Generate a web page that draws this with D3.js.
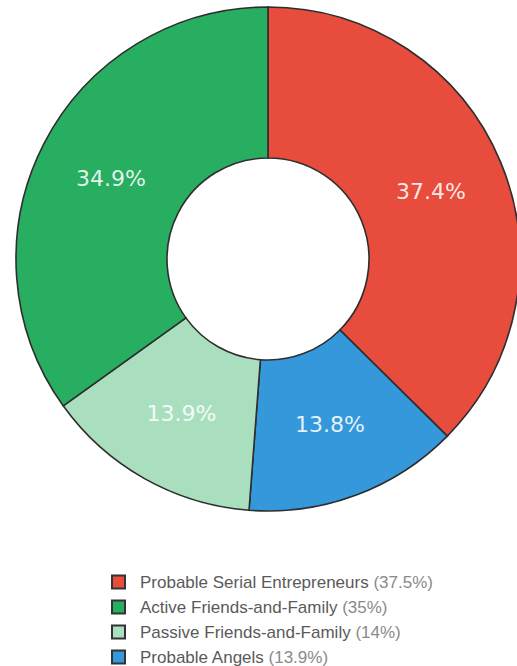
<!DOCTYPE html>
<html>
<head>
<meta charset="utf-8">
<script src="https://cdn.jsdelivr.net/npm/d3@7"></script>
<style>
    body { margin: 0; background: #fff; }
    svg { display: block; }
</style>
</head>
<body>
<svg id="chart" width="517" height="666"></svg>
<script>
// slices, clockwise from 12 o'clock
const sliceNames = ["Probable Serial Entrepreneurs", "Probable Angels", "Passive Friends-and-Family", "Active Friends-and-Family"];
const sliceValues = [37.4, 13.8, 13.9, 34.9];
const sliceColors = ["#e74c3c", "#3498db", "#a9dfbf", "#27ae60"];

// legend
const legendNames = ["Probable Serial Entrepreneurs", "Active Friends-and-Family", "Passive Friends-and-Family", "Probable Angels"];
const legendPct = ["(37.5%)", "(35%)", "(14%)", "(13.9%)"];
const legendColors = ["#e74c3c", "#27ae60", "#a9dfbf", "#3498db"];

const svg = d3.select("#chart");
const cx = 268, cy = 259;
const outerR = 252, innerR = 101;

const pie = d3.pie().sort(null).value(d => d.value);
const arc = d3.arc().innerRadius(innerR).outerRadius(outerR);

const data = sliceNames.map((n, i) => ({ name: n, value: sliceValues[i], color: sliceColors[i] }));

const g = svg.append("g").attr("transform", `translate(${cx},${cy})`);

g.selectAll("path")
    .data(pie(data))
    .enter().append("path")
    .attr("d", arc)
    .attr("fill", d => d.data.color)
    .attr("stroke", "#2e2e2e")
    .attr("stroke-width", 1.6);

g.selectAll("text")
    .data(pie(data))
    .enter().append("text")
    .attr("transform", d => `translate(${arc.centroid(d)})`)
    .attr("text-anchor", "middle")
    .attr("dy", "0.36em")
    .attr("fill", "#ffffff")
    .attr("fill-opacity", 0.88)
    .attr("font-family", "DejaVu Sans")
    .attr("font-size", "22px")
    .text(d => d.data.value.toFixed(1) + "%");

const legend = svg.append("g").attr("transform", "translate(112,582)");

const row = legend.selectAll("g")
    .data(legendNames)
    .enter().append("g")
    .attr("transform", (d, i) => `translate(0,${i * 25})`);

row.append("rect")
    .attr("x", 0)
    .attr("y", -6.5)
    .attr("width", 13)
    .attr("height", 13)
    .attr("fill", (d, i) => legendColors[i])
    .attr("stroke", "#333")
    .attr("stroke-width", 2);

const label = row.append("text")
    .attr("x", 28)
    .attr("dy", "0.36em")
    .attr("font-family", "Liberation Sans")
    .attr("font-size", "17px")
    .attr("fill", "#5a5a5a");

label.append("tspan").text(d => d + " ");
label.append("tspan")
    .attr("fill", "#8a8a8a")
    .text((d, i) => legendPct[i]);
</script>
</body>
</html>
